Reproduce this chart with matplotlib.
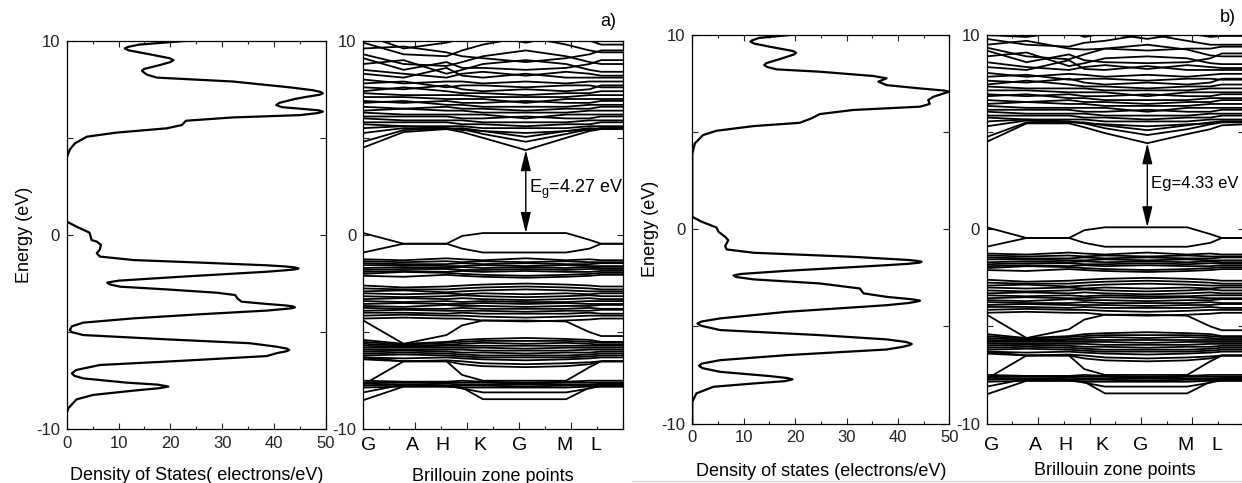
import matplotlib.pyplot as plt
from matplotlib.lines import Line2D
from matplotlib.ticker import MultipleLocator

plt.rcParams['font.family'] = ['Liberation Sans', 'DejaVu Sans']
plt.rcParams['axes.unicode_minus'] = False
plt.rcParams['axes.linewidth'] = 0.9

# ---- density of states, (energy eV, states/eV) ----
dos_a_e = [10.0, 9.8, 9.68, 9.6, 9.5, 9.3, 9.1, 9.0, 8.9, 8.75, 8.55, 8.46, 8.38, 8.25, 8.1,
           7.9, 7.6, 7.45, 7.36, 7.29, 7.22, 7.1, 7.0, 6.8, 6.69, 6.58, 6.5, 6.42, 6.35,
           6.28, 6.17, 6.05, 5.88, 5.66, 5.49, 5.27, 5.06, 4.72, 4.4,
           4.12, 3.95, 0.69, 0.43, 0.12, -0.26, -0.34, -0.51, -0.74, -0.94, -1.11, -1.29,
           -1.42, -1.56, -1.62, -1.67, -1.72, -1.77, -1.82, -1.89, -2.14, -2.35, -2.45, -2.55,
           -2.66, -2.8, -2.97, -3.09, -3.26, -3.43, -3.55, -3.62, -3.67, -3.72, -3.77, -3.82,
           -3.89, -4.08, -4.29, -4.51, -4.7, -4.89, -5.0,
           -5.15, -5.37, -5.57, -5.75, -5.85, -5.92, -5.99, -6.08, -6.23, -6.47, -6.69, -6.95,
           -7.12, -7.25, -7.38, -7.6, -7.7, -7.8, -7.88, -8.01, -8.23, -8.46, -8.92, -9.18, -10.0]
dos_a_v = [23.5, 14.0, 11.8, 11.2, 12.0, 16.0, 19.8, 20.6, 20.0, 18.0, 15.0, 14.5, 14.8, 15.5, 17.4,
           32.0, 43.0, 47.5, 49.0, 49.4, 48.8, 46.0, 44.0, 41.0, 40.4, 41.5, 45.0, 48.5, 49.4,
           48.5, 45.0, 32.0, 23.0, 22.2, 19.3, 9.6, 3.9, 1.6, 0.6,
           0.2, 0.0, 0.0, 1.9, 4.4, 4.8, 5.8, 6.6, 6.4, 5.8, 6.4, 12.9,
           25.7, 38.6, 42.2, 44.0, 44.7, 44.0, 42.0, 38.6, 22.5, 10.0, 7.8, 8.4,
           10.3, 19.3, 28.9, 32.5, 32.9, 33.7, 38.6, 42.0, 43.6, 44.0, 43.4, 41.5,
           38.6, 25.7, 12.9, 3.2, 1.0, 0.6, 1.0,
           3.2, 19.3, 35.3, 40.5, 42.5, 42.9, 42.3, 40.5, 38.6, 22.5, 6.4, 1.8,
           1.0, 1.5, 3.2, 11.6, 17.5, 19.6, 18.0, 12.9, 5.1, 1.9, 0.3, 0.0, 0.0]

dos_b_e = [10.0, 9.85, 9.72, 9.66, 9.56, 9.4, 9.18, 9.09, 9.0, 8.8, 8.55, 8.45, 8.35, 8.23,
           8.11, 7.89, 7.77, 7.6, 7.42, 7.25, 7.14, 7.08, 7.0, 6.82, 6.65, 6.45, 6.31, 6.14,
           5.93, 5.71, 5.48, 5.31, 5.07, 4.85,
           4.42, 3.9, 0.64, 0.39, 0.09, -0.13, -0.39, -0.56, -0.87, -1.04, -1.21, -1.42,
           -1.58, -1.63, -1.67, -1.72, -1.78, -1.85, -2.14, -2.3, -2.38, -2.46, -2.58, -2.79,
           -3.05, -3.3, -3.48, -3.6, -3.65, -3.68, -3.73, -3.8, -3.91, -4.25, -4.59, -4.75,
           -4.85, -4.96, -5.19, -5.45, -5.67, -5.8, -5.87, -5.91, -5.97, -6.05, -6.19, -6.48,
           -6.74, -6.92, -7.03, -7.15, -7.34, -7.56, -7.66, -7.73, -7.82, -7.94,
           -8.11, -8.45, -8.88, -10.0]
dos_b_v = [19.0, 13.0, 11.6, 11.3, 12.0, 15.0, 19.5, 20.2, 19.8, 17.5, 14.4, 14.0, 14.6, 16.4,
           24.8, 35.2, 37.8, 36.2, 37.8, 44.3, 49.0, 50.0, 49.0, 46.9, 45.9, 46.2, 44.3, 31.3,
           24.8, 23.2, 20.9, 11.9, 4.7, 2.1,
           0.5, 0.0, 0.0, 1.8, 4.7, 5.1, 6.4, 7.0, 6.4, 6.7, 11.9, 31.3,
           42.0, 43.8, 44.6, 44.2, 42.0, 37.8, 18.4, 9.5, 8.0, 8.6, 11.9, 24.8,
           32.6, 33.3, 37.8, 42.5, 43.8, 44.3, 43.6, 42.0, 37.8, 18.4, 5.4, 1.8,
           1.0, 1.6, 5.4, 24.8, 37.8, 41.5, 42.4, 42.7, 42.2, 41.0, 37.8, 18.4,
           5.4, 1.8, 1.3, 2.0, 5.4, 15.1, 18.5, 19.5, 18.0, 11.9,
           4.1, 0.8, 0.0, 0.0]

# ---- band structure: energies at the k-path nodes ----
k_nodes = [0.0, 1.55, 3.2, 3.8, 4.6, 6.25, 7.8, 8.7, 9.15, 10.0]
k_names = ['G', 'A', 'H', 'K', 'G', 'M', 'L']
k_name_x = [0.2, 1.9, 3.05, 4.5, 6.0, 7.75, 8.95]

gap_a = 4.27
gap_b = 4.33

vb_edge = [
    [0.1, -0.45, -0.45, -0.05, 0.1, 0.1, 0.1, -0.25, -0.45, -0.45],
    [-0.9, -0.45, -0.45, -0.7, -0.9, -0.9, -0.9, -0.7, -0.45, -0.45],
]
vb_group1 = [
    [-1.25, -1.3, -1.2, -1.25, -1.3, -1.2, -1.3, -1.25, -1.3, -1.3],
    [-1.35, -1.4, -1.35, -1.4, -1.35, -1.4, -1.35, -1.4, -1.4, -1.4],
    [-1.45, -1.5, -1.5, -1.45, -1.5, -1.45, -1.5, -1.5, -1.45, -1.45],
    [-1.55, -1.55, -1.6, -1.6, -1.55, -1.6, -1.55, -1.6, -1.6, -1.6],
    [-1.7, -1.65, -1.7, -1.65, -1.7, -1.65, -1.7, -1.65, -1.7, -1.7],
    [-1.8, -1.75, -1.75, -1.8, -1.8, -1.75, -1.8, -1.75, -1.75, -1.75],
    [-1.9, -1.85, -1.9, -1.85, -1.9, -1.85, -1.9, -1.9, -1.85, -1.85],
    [-2.0, -1.9, -1.95, -2.0, -2.05, -2.1, -2.05, -2.0, -1.95, -1.95],
    [-2.1, -2.15, -2.05, -2.1, -2.15, -2.2, -2.15, -2.1, -2.05, -2.05],
]
vb_group2 = [
    [-2.6, -2.7, -2.65, -2.6, -2.55, -2.5, -2.55, -2.6, -2.65, -2.65],
    [-2.75, -2.8, -2.8, -2.75, -2.7, -2.65, -2.7, -2.75, -2.8, -2.8],
    [-2.9, -2.85, -2.95, -2.9, -2.85, -2.8, -2.85, -2.9, -2.9, -2.9],
    [-3.0, -3.05, -3.0, -3.05, -3.0, -3.05, -3.0, -3.05, -3.0, -3.0],
    [-3.15, -3.2, -3.15, -3.1, -3.15, -3.2, -3.15, -3.1, -3.15, -3.15],
    [-3.3, -3.25, -3.3, -3.25, -3.3, -3.35, -3.3, -3.25, -3.3, -3.3],
    [-3.4, -3.45, -3.4, -3.45, -3.4, -3.45, -3.45, -3.4, -3.4, -3.4],
    [-3.55, -3.5, -3.55, -3.55, -3.5, -3.55, -3.5, -3.55, -3.55, -3.55],
    [-3.65, -3.7, -3.6, -3.65, -3.65, -3.7, -3.65, -3.65, -3.6, -3.6],
    [-3.75, -3.8, -3.8, -3.75, -3.8, -3.8, -3.8, -3.75, -3.8, -3.8],
    [-3.9, -3.85, -3.9, -3.9, -3.9, -3.95, -3.9, -3.9, -3.85, -3.85],
    [-4.0, -4.0, -4.05, -4.0, -4.05, -4.05, -4.05, -4.0, -4.05, -4.05],
    [-4.15, -4.1, -4.15, -4.15, -4.2, -4.25, -4.2, -4.15, -4.15, -4.15],
    [-4.3, -4.25, -4.3, -4.3, -4.4, -4.45, -4.4, -4.35, -4.3, -4.3],
    [-4.4, -5.6, -5.15, -4.65, -4.4, -4.4, -4.45, -5.0, -5.2, -5.2],
]
vb_group3 = [
    [-5.4, -5.6, -5.5, -5.4, -5.35, -5.3, -5.35, -5.4, -5.5, -5.5],
    [-5.5, -5.65, -5.55, -5.5, -5.45, -5.45, -5.45, -5.5, -5.55, -5.55],
    [-5.6, -5.7, -5.65, -5.6, -5.55, -5.6, -5.55, -5.6, -5.65, -5.65],
    [-5.7, -5.75, -5.7, -5.7, -5.7, -5.7, -5.7, -5.7, -5.7, -5.7],
    [-5.8, -5.8, -5.8, -5.8, -5.8, -5.85, -5.8, -5.8, -5.8, -5.8],
    [-5.9, -5.9, -5.9, -5.9, -5.95, -5.95, -5.95, -5.9, -5.9, -5.9],
    [-6.0, -5.95, -6.0, -6.05, -6.05, -6.1, -6.05, -6.05, -6.0, -6.0],
    [-6.1, -6.05, -6.1, -6.15, -6.2, -6.2, -6.2, -6.15, -6.1, -6.1],
    [-6.2, -6.15, -6.2, -6.25, -6.3, -6.3, -6.3, -6.25, -6.2, -6.2],
    [-6.3, -6.35, -6.3, -6.35, -6.4, -6.45, -6.4, -6.35, -6.3, -6.3],
    [-6.4, -6.5, -6.45, -6.5, -6.6, -6.65, -6.6, -6.55, -6.5, -6.5],
    [-6.3, -6.5, -6.5, -6.65, -6.75, -6.8, -6.75, -6.65, -6.5, -6.5],
    [-7.7, -6.5, -6.5, -7.2, -7.5, -7.5, -7.5, -6.8, -6.5, -6.5],
]
vb_group4 = [
    [-7.5, -7.55, -7.55, -7.5, -7.55, -7.6, -7.55, -7.5, -7.5, -7.5],
    [-7.6, -7.6, -7.6, -7.6, -7.6, -7.65, -7.6, -7.6, -7.6, -7.6],
    [-7.65, -7.7, -7.65, -7.7, -7.7, -7.7, -7.7, -7.7, -7.65, -7.65],
    [-7.75, -7.7, -7.75, -7.75, -7.75, -7.8, -7.75, -7.75, -7.7, -7.7],
    [-7.85, -7.8, -7.8, -7.85, -7.85, -7.85, -7.85, -7.8, -7.8, -7.8],
    [-8.1, -7.7, -7.75, -7.9, -8.1, -8.1, -8.1, -7.9, -7.75, -7.75],
    [-8.5, -7.8, -7.8, -7.85, -8.45, -8.45, -8.45, -7.85, -7.8, -7.8],
]

cb_a_low = [
    [4.5, 5.3, 5.45, 5.3, 5.0, 4.37, 5.0, 5.35, 5.45, 5.45],
    [4.8, 5.4, 5.5, 5.45, 5.2, 4.8, 5.2, 5.45, 5.5, 5.5],
    [5.25, 5.5, 5.45, 5.5, 5.35, 5.05, 5.35, 5.5, 5.45, 5.45],
]
cb_a_mid = [
    [8.0, 7.8, 7.9, 7.9, 7.8, 7.9, 7.8, 7.9, 7.9, 7.9],
    [7.8, 7.9, 7.6, 7.7, 7.7, 7.6, 7.7, 7.7, 7.6, 7.6],
    [7.6, 7.5, 7.7, 7.5, 7.4, 7.5, 7.4, 7.5, 7.7, 7.7],
    [7.4, 7.6, 7.4, 7.3, 7.3, 7.2, 7.3, 7.3, 7.4, 7.4],
    [7.3, 7.2, 7.2, 7.2, 7.1, 7.1, 7.1, 7.2, 7.2, 7.2],
    [7.1, 7.1, 7.0, 7.0, 7.0, 6.8, 7.0, 7.0, 7.0, 7.0],
    [6.9, 6.8, 6.9, 6.8, 6.8, 6.9, 6.8, 6.8, 6.9, 6.9],
    [6.8, 6.9, 6.7, 6.7, 6.6, 6.6, 6.6, 6.7, 6.7, 6.7],
    [6.6, 6.5, 6.6, 6.5, 6.5, 6.4, 6.5, 6.5, 6.6, 6.6],
    [6.4, 6.5, 6.4, 6.4, 6.3, 6.3, 6.3, 6.4, 6.4, 6.4],
    [6.3, 6.2, 6.2, 6.2, 6.2, 6.0, 6.2, 6.2, 6.2, 6.2],
    [6.1, 6.1, 6.1, 6.0, 6.0, 6.1, 6.0, 6.0, 6.1, 6.1],
    [6.0, 5.9, 5.9, 5.9, 5.8, 5.8, 5.8, 5.9, 5.9, 5.9],
    [5.8, 5.8, 5.8, 5.7, 5.7, 5.6, 5.7, 5.7, 5.8, 5.8],
    [5.7, 5.6, 5.6, 5.6, 5.5, 5.5, 5.5, 5.6, 5.6, 5.6],
    [5.5, 5.6, 5.5, 5.4, 5.35, 5.25, 5.35, 5.4, 5.5, 5.5],
]
cb_a_top = [
    [10.3, 9.6, 9.9, 10.1, 10.3, 9.9, 10.3, 10.0, 9.8, 9.8],
    [9.9, 9.3, 9.2, 9.5, 9.8, 10.2, 9.8, 9.5, 9.4, 9.4],
    [9.6, 9.7, 9.4, 9.2, 9.1, 8.9, 9.1, 9.3, 9.5, 9.5],
    [9.3, 8.8, 8.7, 8.9, 9.2, 9.5, 9.2, 8.9, 8.8, 8.8],
    [9.1, 8.5, 8.9, 8.6, 8.6, 8.5, 8.6, 8.8, 9.0, 9.0],
    [8.8, 9.0, 8.3, 8.5, 8.8, 9.0, 8.8, 8.5, 8.4, 8.4],
    [8.5, 8.3, 8.1, 8.3, 8.4, 8.2, 8.4, 8.3, 8.2, 8.2],
    [8.3, 8.1, 8.6, 8.2, 8.1, 8.3, 8.1, 8.1, 8.1, 8.1],
]

cb_b_low = [
    [4.5, 5.45, 5.45, 5.25, 4.95, 4.43, 4.9, 5.15, 5.35, 5.4],
    [4.75, 5.5, 5.55, 5.45, 5.2, 4.85, 5.15, 5.4, 5.5, 5.5],
    [5.3, 5.6, 5.5, 5.5, 5.35, 5.1, 5.35, 5.5, 5.55, 5.55],
]
cb_b_mid = [
    [8.05, 7.85, 8.0, 7.95, 7.85, 7.95, 7.85, 7.95, 8.0, 8.0],
    [7.85, 7.95, 7.7, 7.75, 7.75, 7.65, 7.75, 7.75, 7.7, 7.7],
    [7.65, 7.55, 7.75, 7.55, 7.45, 7.55, 7.45, 7.55, 7.75, 7.75],
    [7.45, 7.65, 7.45, 7.35, 7.35, 7.25, 7.35, 7.35, 7.45, 7.45],
    [7.35, 7.25, 7.25, 7.25, 7.15, 7.15, 7.15, 7.25, 7.25, 7.25],
    [7.15, 7.15, 7.05, 7.05, 7.05, 6.85, 7.05, 7.05, 7.05, 7.05],
    [6.95, 6.85, 6.95, 6.85, 6.85, 6.95, 6.85, 6.85, 6.95, 6.95],
    [6.85, 6.95, 6.75, 6.75, 6.65, 6.65, 6.65, 6.75, 6.75, 6.75],
    [6.65, 6.55, 6.65, 6.55, 6.55, 6.45, 6.55, 6.55, 6.65, 6.65],
    [6.45, 6.55, 6.45, 6.45, 6.35, 6.35, 6.35, 6.45, 6.45, 6.45],
    [6.35, 6.25, 6.25, 6.25, 6.25, 6.05, 6.25, 6.25, 6.25, 6.25],
    [6.15, 6.15, 6.15, 6.05, 6.05, 6.15, 6.05, 6.05, 6.15, 6.15],
    [6.05, 5.95, 5.95, 5.95, 5.85, 5.85, 5.85, 5.95, 5.95, 5.95],
    [5.85, 5.85, 5.85, 5.75, 5.75, 5.65, 5.75, 5.75, 5.85, 5.85],
    [5.75, 5.65, 5.65, 5.65, 5.55, 5.55, 5.55, 5.65, 5.65, 5.65],
    [5.55, 5.65, 5.55, 5.45, 5.4, 5.3, 5.4, 5.45, 5.55, 5.55],
]
cb_b_top = [
    [10.0, 9.9, 10.2, 9.9, 10.1, 9.8, 10.1, 9.9, 9.95, 9.95],
    [9.8, 9.5, 9.4, 9.6, 9.7, 10.05, 9.7, 9.5, 9.5, 9.5],
    [9.5, 9.7, 9.3, 9.25, 9.3, 9.2, 9.3, 9.3, 9.4, 9.4],
    [9.35, 8.9, 8.75, 9.0, 9.3, 9.5, 9.25, 8.95, 8.9, 8.9],
    [9.2, 8.6, 9.0, 8.7, 8.6, 8.55, 8.6, 8.8, 9.05, 9.05],
    [8.9, 9.1, 8.4, 8.55, 8.8, 8.9, 8.8, 8.55, 8.5, 8.5],
    [8.6, 8.35, 8.2, 8.35, 8.45, 8.25, 8.45, 8.35, 8.3, 8.3],
    [8.35, 8.2, 8.7, 8.25, 8.2, 8.4, 8.2, 8.2, 8.2, 8.2],
]

valence = vb_edge + vb_group1 + vb_group2 + vb_group3 + vb_group4
bands_a = valence + cb_a_low + cb_a_mid + cb_a_top
bands_b = valence + cb_b_low + cb_b_mid + cb_b_top

W, H = 1242, 483
fig = plt.figure(figsize=(W / 100, H / 100), dpi=100)


def px_axes(left, right, top, bottom):
    return fig.add_axes([left / W, 1 - bottom / H, (right - left) / W, (bottom - top) / H])


def style_energy_axis(ax):
    ax.set_ylim(-10, 10)
    ax.set_yticks([-10, -5, 0, 5, 10])
    ax.set_yticklabels(['-10', '', '0', '', '10'])
    ax.tick_params(which='both', direction='in', top=True, right=True,
                   labelsize=12, pad=5, width=0.8, colors='#222222')
    ax.tick_params(which='major', length=4.5)
    ax.tick_params(which='minor', length=2.5)


def draw_dos(ax, e, v, xlabel, pad):
    ax.plot(v, e, color='black', lw=1.6, solid_joinstyle='round')
    ax.set_xlim(0, 50)
    ax.xaxis.set_major_locator(MultipleLocator(10))
    ax.xaxis.set_minor_locator(MultipleLocator(5))
    style_energy_axis(ax)
    ax.set_xlabel(xlabel, fontsize=13, labelpad=pad)


def draw_bands(ax, bands, vbm, cbm, gap_text, text_x, name_y, pad, text_size):
    for b in bands:
        ax.plot(k_nodes, b, color='black', lw=1.3)
    ax.set_xlim(0, 10)
    ax.xaxis.set_major_locator(MultipleLocator(2))
    ax.xaxis.set_minor_locator(MultipleLocator(1))
    ax.set_xticklabels([])
    style_energy_axis(ax)
    ax.tick_params(axis='x', which='major', length=5)
    for name, x in zip(k_names, k_name_x):
        ax.text(x, name_y, name, transform=ax.get_xaxis_transform(),
                ha='center', va='top', fontsize=14)
    ax.set_xlabel('Brillouin zone points', fontsize=13, labelpad=pad)
    k_gap = k_nodes[5]
    ax.annotate('', xy=(k_gap, cbm), xytext=(k_gap, vbm),
                arrowprops=dict(arrowstyle='<|-|>,head_length=0.9,head_width=0.22',
                                color='black', lw=1.0, mutation_scale=14,
                                shrinkA=0, shrinkB=0))
    ax.text(text_x, (vbm + cbm) / 2 + 0.1, gap_text, ha='left', va='center',
            fontsize=text_size, clip_on=False)


vbm = max(vb_edge[0])

ax1 = px_axes(66.7, 326, 40.7, 429.3)
draw_dos(ax1, dos_a_e, dos_a_v, 'Density of States( electrons/eV)', 11)
ax1.set_ylabel('Energy (eV)', fontsize=13, labelpad=2)

ax2 = px_axes(363.3, 623.3, 40.7, 429.3)
draw_bands(ax2, bands_a, vbm, vbm + gap_a,
           r'E$_\mathregular{g}$=%.2f eV' % gap_a, 6.38, -0.02, 23, 13)

ax3 = px_axes(692.3, 949.3, 35, 423.5)
draw_dos(ax3, dos_b_e, dos_b_v, 'Density of states (electrons/eV)', 13)
ax3.set_ylabel('Energy (eV)', fontsize=13, labelpad=2)

ax4 = px_axes(986.7, 1243.7, 35, 423.5)
draw_bands(ax4, bands_b, vbm, vbm + gap_b, 'Eg=%.2f eV' % gap_b, 6.38, -0.035, 23, 12)

fig.text(608 / W, 1 - 22 / H, 'a)', fontsize=13, ha='center', va='center')
fig.text(1228 / W, 1 - 18 / H, 'b)', fontsize=13, ha='center', va='center')
fig.add_artist(Line2D([632 / W, 1], [1.6 / H, 1.6 / H], color='#d8d8d8', lw=1.0))

fig.savefig('out.png', dpi=100)
